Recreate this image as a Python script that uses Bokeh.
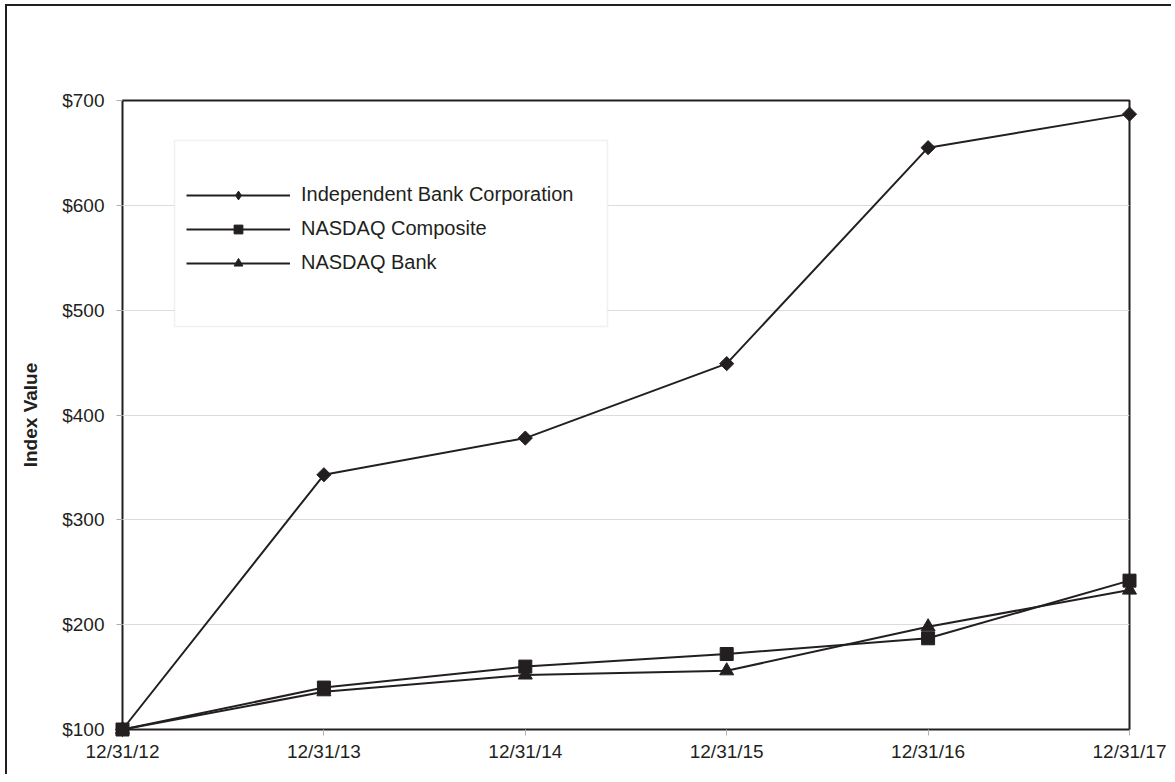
from bokeh.plotting import figure
from bokeh.models import (Range1d, FixedTicker, PrintfTickFormatter, Legend, LegendItem,
                          BoxAnnotation)
from bokeh.embed import file_html
from bokeh.resources import INLINE
import math

# ---- data ----
dates = ["12/31/12", "12/31/13", "12/31/14", "12/31/15", "12/31/16", "12/31/17"]
independent_bank = [100, 343, 378, 449, 655, 687]
nasdaq_composite = [100, 140, 160, 172, 187, 242]
nasdaq_bank = [100, 136, 152, 156, 198, 233]
y_ticks = [100, 200, 300, 400, 500, 600, 700]
series_names = ["Independent Bank Corporation", "NASDAQ Composite", "NASDAQ Bank"]

x = list(range(len(dates)))
INK = "#231f20"
FONT = "Liberation Sans"

p = figure(width=1166, height=770, output_backend="svg", toolbar_location=None,
           x_range=Range1d(0, len(dates) - 1), y_range=Range1d(100, 700),
           min_border_left=115, min_border_top=94, min_border_right=44, min_border_bottom=47,
           margin=(4, 0, 0, 5),
           styles={"border-left": "2px solid #231f20", "border-top": "2px solid #231f20"})

p.outline_line_color = INK
p.outline_line_width = 2
p.background_fill_color = "white"
p.border_fill_color = "white"

# axes
p.xaxis.ticker = FixedTicker(ticks=x)
p.xaxis.major_label_overrides = {i: d for i, d in enumerate(dates)}
p.yaxis.ticker = FixedTicker(ticks=y_ticks)
p.yaxis.formatter = PrintfTickFormatter(format="$%d")
for ax in (p.xaxis, p.yaxis):
    ax.axis_line_color = None
    ax.major_tick_in = 0
    ax.major_tick_out = 6
    ax.major_tick_line_color = "#b0b0b0"
    ax.minor_tick_line_color = None
    ax.major_label_text_font = FONT
    ax.major_label_text_font_size = "19px"
    ax.major_label_text_color = INK
p.yaxis.major_label_standoff = 12
p.xaxis.major_label_standoff = 5
p.yaxis.axis_label = "Index Value"
p.yaxis.axis_label_text_font = FONT
p.yaxis.axis_label_text_font_style = "bold"
p.yaxis.axis_label_text_font_size = "19px"
p.yaxis.axis_label_text_color = INK
p.yaxis.axis_label_standoff = 18

p.xgrid.grid_line_color = None
p.ygrid.grid_line_color = "#dcdcdc"
p.ygrid.grid_line_width = 1

# legend panel: white with a light gray border
box = BoxAnnotation(left=165, right=598, top=132, bottom=318,
                    left_units="canvas", right_units="canvas",
                    top_units="canvas", bottom_units="canvas",
                    fill_color="white", fill_alpha=1.0,
                    line_color="#d0d0d0", line_width=1.5, level="underlay")
p.add_layout(box)

# series (overlay level so edge markers are not clipped by the frame)
l1 = p.line(x, independent_bank, line_color=INK, line_width=2, level="overlay")
m1 = p.scatter(x, independent_bank, marker="square", size=10, angle=math.pi / 4,
               fill_color=INK, line_color=INK, level="overlay")
l2 = p.line(x, nasdaq_composite, line_color=INK, line_width=2, level="overlay")
m2 = p.scatter(x, nasdaq_composite, marker="square", size=13, fill_color=INK,
               line_color=INK, level="overlay")
l3 = p.line(x, nasdaq_bank, line_color=INK, line_width=2, level="overlay")
m3 = p.scatter(x, nasdaq_bank, marker="triangle", size=14, fill_color=INK,
               line_color=INK, level="overlay")
# legend swatch for the diamond (the legend draws markers without rotation)
d1 = p.scatter(x, independent_bank, marker="diamond", size=10, fill_color=INK,
               line_color=INK, visible=False)

legend = Legend(items=[LegendItem(label=series_names[0], renderers=[l1, d1]),
                       LegendItem(label=series_names[1], renderers=[l2, m2]),
                       LegendItem(label=series_names[2], renderers=[l3, m3])],
                location=(49, 440), padding=15, spacing=11,
                glyph_width=104, glyph_height=22, label_height=22, label_standoff=11,
                label_text_font=FONT, label_text_font_size="20px", label_text_color=INK,
                border_line_alpha=0, background_fill_alpha=0)
p.add_layout(legend)

open("out.html", "w").write(file_html(p, INLINE))
